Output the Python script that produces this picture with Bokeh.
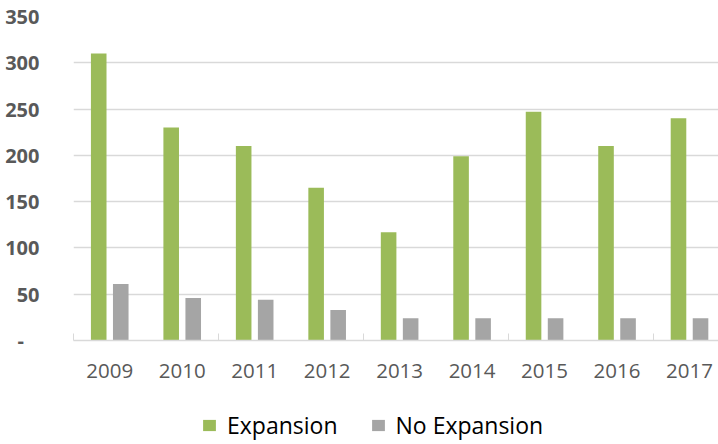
from bokeh.plotting import figure
from bokeh.layouts import column
from bokeh.models import ColumnDataSource, Range1d, FixedTicker, Legend, LegendItem
from bokeh.transform import dodge
from bokeh.embed import file_html
from bokeh.resources import INLINE

years = ["2009", "2010", "2011", "2012", "2013", "2014", "2015", "2016", "2017"]
expansion = [310, 230, 210, 165, 117, 199, 247, 210, 240]
no_expansion = [61, 46, 44, 33, 24, 24, 24, 24, 24]
y_ticks = [0, 50, 100, 150, 200, 250, 300, 350]
series_names = ["Expansion", "No Expansion"]
series_colors = ["#9BBB59", "#A5A5A5"]

centers = [i + 0.5 for i in range(len(years))]
src = ColumnDataSource(dict(x=centers, exp=expansion, noexp=no_expansion))

p = figure(width=718, height=396, output_backend="svg", toolbar_location=None,
           x_range=Range1d(0, 8.9), y_range=Range1d(0, 350),
           min_border_left=73, min_border_top=16, min_border_right=0, min_border_bottom=56)
p.outline_line_color = None
p.background_fill_color = "white"

p.vbar(x=dodge("x", -0.152, range=p.x_range), top="exp", width=0.215, source=src,
       fill_color=series_colors[0], line_color=None)
p.vbar(x=dodge("x", 0.152, range=p.x_range), top="noexp", width=0.215, source=src,
       fill_color=series_colors[1], line_color=None)

font = "Open Sans"
# y axis
p.yaxis.ticker = FixedTicker(ticks=y_ticks)
p.yaxis.major_label_overrides = {0: "-\u00a0\u00a0\u00a0"}
p.yaxis.axis_line_color = None
p.yaxis.major_tick_line_color = None
p.yaxis.minor_tick_line_color = None
p.yaxis.major_label_standoff = 28
p.yaxis.major_label_text_font = font
p.yaxis.major_label_text_font_style = "bold"
p.yaxis.major_label_text_font_size = "20px"
p.yaxis.major_label_text_color = "#595959"

# x axis
p.xaxis.ticker = FixedTicker(ticks=centers, minor_ticks=[0, 2, 4, 6, 8])
p.xaxis.major_label_overrides = {c: y for c, y in zip(centers, years)}
p.xaxis.axis_line_color = "#D9D9D9"
p.xaxis.axis_line_width = 1.5
p.xaxis.major_tick_line_color = None
p.xaxis.minor_tick_line_color = "#D9D9D9"
p.xaxis.minor_tick_in = 7
p.xaxis.minor_tick_out = 0
p.xaxis.major_label_standoff = 17
p.xaxis.major_label_text_font = font
p.xaxis.major_label_text_font_size = "20.5px"
p.xaxis.major_label_text_color = "#595959"

p.xgrid.grid_line_color = None
p.ygrid.grid_line_color = "#D9D9D9"
p.ygrid.grid_line_width = 1.5

# legend strip (its bars lie outside its own x range, only the legend shows)
p2 = figure(width=718, height=48, output_backend="svg", toolbar_location=None,
            x_range=Range1d(-20, -19), y_range=Range1d(0, 1),
            min_border=0, x_axis_location=None, y_axis_location=None)
p2.outline_line_color = None
p2.xgrid.grid_line_color = None
p2.ygrid.grid_line_color = None
items = []
for name, col, key in zip(series_names, series_colors, ["exp", "noexp"]):
    r = p2.vbar(x="x", top=key, width=0.215, source=src, fill_color=col, line_color=None)
    items.append(LegendItem(label=name, renderers=[r]))
legend = Legend(items=items, location=(128, 3), orientation="horizontal",
                padding=0, margin=0, spacing=32, label_standoff=10,
                glyph_width=16, glyph_height=14,
                border_line_color=None, background_fill_alpha=0,
                label_text_font=font, label_text_font_size="23px",
                label_text_color="#000000")
p2.add_layout(legend, "center")

open("out.html", "w").write(file_html(column(p, p2, spacing=0), INLINE))
